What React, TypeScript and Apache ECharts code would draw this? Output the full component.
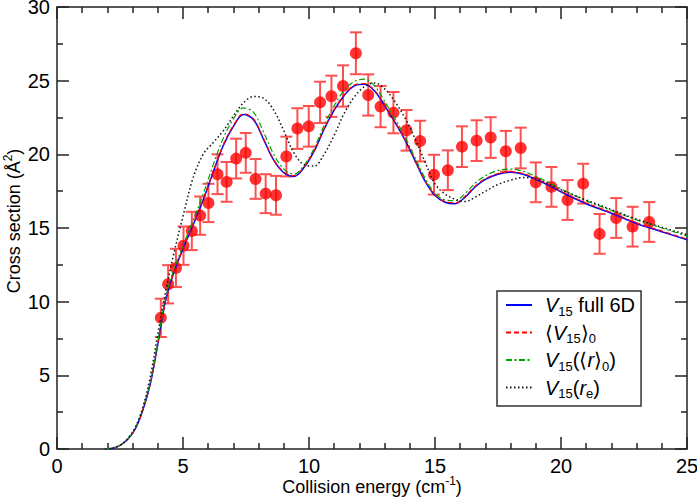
import React, { useEffect, useRef } from "react";
import * as echarts from "echarts";

// Experimental points: collision energy (cm^-1), cross section (Å^2), error bar half-width
const expEnergy = [4.12, 4.41, 4.72, 5.02, 5.35, 5.68, 6.01, 6.37, 6.73, 7.11, 7.49, 7.88, 8.28, 8.69, 9.10, 9.54, 9.99, 10.44, 10.89, 11.35, 11.86, 12.35, 12.84, 13.35, 13.87, 14.41, 14.96, 15.51, 16.07, 16.65, 17.21, 17.81, 18.40, 19.00, 19.62, 20.26, 20.88, 21.53, 22.19, 22.84, 23.50];
const expSigma = [8.9, 11.18, 12.29, 13.8, 14.8, 15.84, 16.7, 18.65, 18.13, 19.71, 20.1, 18.33, 17.33, 17.22, 19.85, 21.75, 21.9, 23.53, 23.94, 24.64, 26.86, 24.03, 23.24, 22.83, 21.63, 20.9, 18.62, 18.92, 20.52, 20.93, 21.14, 20.21, 20.43, 18.1, 17.79, 16.9, 18.01, 14.6, 15.68, 15.09, 15.41];
const expError = [1.3, 1.3, 1.3, 1.3, 1.3, 1.3, 1.3, 1.35, 1.35, 1.35, 1.35, 1.35, 1.32, 1.32, 1.35, 1.38, 1.38, 1.4, 1.4, 1.4, 1.42, 1.4, 1.4, 1.4, 1.38, 1.38, 1.35, 1.35, 1.38, 1.38, 1.38, 1.38, 1.38, 1.35, 1.35, 1.35, 1.35, 1.35, 1.35, 1.35, 1.35];

// Theory curves on a common energy grid
const curveEnergy = [1.9, 2.2, 2.5, 2.8, 3.1, 3.4, 3.7, 4.0, 4.3, 4.6, 5.0, 5.4, 5.8, 6.2, 6.6, 7.0, 7.4, 7.8, 8.2, 8.6, 9.0, 9.4, 9.8, 10.2, 10.6, 11.0, 11.4, 11.8, 12.2, 12.6, 13.0, 13.4, 13.8, 14.2, 14.6, 15.0, 15.4, 15.8, 16.2, 16.6, 17.0, 17.5, 18.0, 18.5, 19.0, 19.5, 20.0, 21.0, 22.0, 23.0, 24.0, 25.0];
const v15Full6D = [0, 0.05, 0.25, 0.65, 1.35, 2.6, 4.4, 7.1, 10.0, 11.8, 13.6, 15.2, 16.9, 18.8, 20.6, 21.9, 22.7, 22.35, 21.0, 19.6, 18.75, 18.5, 19.1, 20.2, 21.7, 23.0, 24.0, 24.65, 24.75, 24.3, 23.3, 22.2, 21.0, 19.6, 18.2, 17.2, 16.75, 16.65, 17.1, 17.8, 18.3, 18.65, 18.78, 18.65, 18.3, 17.9, 17.45, 16.65, 16.0, 15.3, 14.75, 14.2];
const v15Avg = [0, 0.05, 0.25, 0.66, 1.36, 2.62, 4.42, 7.12, 10.0, 11.8, 13.6, 15.25, 16.95, 18.85, 20.65, 21.95, 22.75, 22.4, 21.05, 19.65, 18.8, 18.55, 19.15, 20.25, 21.75, 23.05, 24.05, 24.7, 24.8, 24.35, 23.35, 22.25, 21.05, 19.65, 18.25, 17.25, 16.8, 16.7, 17.15, 17.85, 18.35, 18.7, 18.82, 18.7, 18.35, 17.95, 17.5, 16.7, 16.05, 15.35, 14.8, 14.25];
const v15AvgR = [0, 0.05, 0.26, 0.68, 1.4, 2.7, 4.55, 7.3, 10.2, 12.0, 13.8, 15.5, 17.3, 19.3, 21.1, 22.4, 23.15, 22.85, 21.5, 20.0, 19.0, 18.65, 19.25, 20.4, 21.95, 23.3, 24.35, 24.95, 25.1, 24.65, 23.6, 22.45, 21.2, 19.8, 18.4, 17.35, 16.9, 16.85, 17.35, 18.05, 18.55, 18.9, 19.0, 18.85, 18.5, 18.1, 17.65, 16.85, 16.2, 15.55, 15.0, 14.45];
const v15Re = [0, 0.05, 0.25, 0.7, 1.45, 2.8, 4.9, 7.8, 10.6, 13.0, 15.8, 18.4, 20.0, 20.8, 21.6, 22.6, 23.5, 23.92, 23.8, 23.0, 21.6, 20.1, 19.3, 19.2, 20.0, 21.3, 22.8, 23.9, 24.6, 24.85, 24.45, 23.6, 22.5, 21.1, 19.5, 18.0, 17.3, 16.95, 16.8, 17.1, 17.5, 17.95, 18.25, 18.42, 18.35, 18.0, 17.6, 16.9, 16.25, 15.6, 15.05, 14.55];

const xTicks = { min: 0, max: 25, interval: 5 };
const yTicks = { min: 0, max: 30, interval: 5 };

const seriesNames = ["V15 full 6D", "<V15>0", "V15(<r>0)", "V15(re)"];
const legendRich: Record<string, string> = {
  "V15 full 6D": "{i|V}{s|15}{t| full 6D}",
  "<V15>0": "{t|⟨}{i|V}{s|15}{t|⟩}{s|0}",
  "V15(<r>0)": "{i|V}{s|15}{t|(⟨}{i|r}{t|⟩}{s|0}{t|)}",
  "V15(re)": "{i|V}{s|15}{t|(}{i|r}{s|e}{t|)}",
};

const FONT = "'Liberation Sans', Arial, Helvetica, sans-serif";

export default function App() {
  const ref = useRef<HTMLDivElement>(null);
  useEffect(() => {
    if (!ref.current) return;
    const chart = echarts.init(ref.current, undefined, { renderer: "svg" });
    const pair = (ys: number[]) => curveEnergy.map((x, i) => [x, ys[i]]);
    const axisLine = { show: true, onZero: false, lineStyle: { color: "#222", width: 1.5 } };
    const tickStyle = { color: "#222", width: 1.5 };
    const lineCurves = [
      { name: seriesNames[0], data: pair(v15Full6D), color: "#0000ff", type: "solid" as any, width: 1.5 },
      { name: seriesNames[1], data: pair(v15Avg), color: "#ff0000", type: [5, 3], width: 1.2 },
      { name: seriesNames[2], data: pair(v15AvgR), color: "#00a000", type: [6, 2.5, 2, 2.5], width: 1.2 },
      { name: seriesNames[3], data: pair(v15Re), color: "#111111", type: [1.5, 2.5], width: 1.5 },
    ];
    const errColor = "#ff5050";
    const titleRich = {
      t: { fontSize: 18, color: "#000", fontFamily: FONT },
      p: { fontSize: 12, color: "#000", fontFamily: FONT, padding: [0, 0, 12, 0] },
    };
    chart.setOption({
      animation: false,
      textStyle: { fontFamily: FONT },
      grid: { left: 57, right: 10, top: 7, bottom: 50, containLabel: false, outerBoundsMode: "none" },
      xAxis: [
        {
          type: "value",
          position: "bottom",
          min: xTicks.min,
          max: xTicks.max,
          interval: xTicks.interval,
          axisLine,
          axisTick: { show: true, inside: true, length: 12, lineStyle: tickStyle },
          minorTick: { show: true, splitNumber: 5, length: 6, lineStyle: tickStyle },
          splitLine: { show: false },
          minorSplitLine: { show: false },
          axisLabel: { fontSize: 20, color: "#000", margin: 7, fontFamily: FONT },
          name: "{t|Collision energy (cm}{p|-1}{t|)}",
          nameLocation: "middle",
          nameGap: 26,
          nameMoveOverlap: false,
          nameTextStyle: { rich: titleRich },
        },
        {
          type: "value",
          position: "top",
          min: xTicks.min,
          max: xTicks.max,
          interval: xTicks.interval,
          axisLine,
          axisTick: { show: true, inside: true, length: 12, lineStyle: tickStyle },
          minorTick: { show: true, splitNumber: 5, length: 6, lineStyle: tickStyle },
          splitLine: { show: false },
          axisLabel: { show: false },
        },
      ],
      yAxis: [
        {
          type: "value",
          position: "left",
          min: yTicks.min,
          max: yTicks.max,
          interval: yTicks.interval,
          axisLine,
          axisTick: { show: true, inside: true, length: 12, lineStyle: tickStyle },
          minorTick: { show: true, splitNumber: 2, length: 6, lineStyle: tickStyle },
          splitLine: { show: false },
          minorSplitLine: { show: false },
          axisLabel: { fontSize: 20, color: "#000", margin: 7, fontFamily: FONT },
          name: "{t|Cross section (Å}{p|2}{t|)}",
          nameLocation: "middle",
          nameRotate: 90,
          nameGap: 31,
          nameMoveOverlap: false,
          nameTextStyle: { padding: [0, 0, 0, 14], rich: titleRich },
        },
        {
          type: "value",
          position: "right",
          min: yTicks.min,
          max: yTicks.max,
          interval: yTicks.interval,
          axisLine,
          axisTick: { show: true, inside: true, length: 12, lineStyle: tickStyle },
          minorTick: { show: true, splitNumber: 2, length: 6, lineStyle: tickStyle },
          splitLine: { show: false },
          axisLabel: { show: false },
        },
      ],
      legend: {
        data: seriesNames,
        orient: "vertical",
        left: 497,
        top: 291,
        itemWidth: 26,
        itemHeight: 14,
        itemGap: 5,
        padding: [4, 6, 6, 8],
        borderColor: "#333",
        borderWidth: 1.5,
        borderRadius: 0,
        backgroundColor: "#fff",
        itemStyle: { opacity: 0, borderWidth: 0 },
        formatter: (name: string) => legendRich[name] || name,
        textStyle: {
          fontSize: 20,
          color: "#000",
          fontFamily: FONT,
          padding: [0, 0, 0, 8],
          rich: {
            t: { fontSize: 20, color: "#000", fontFamily: FONT },
            i: { fontSize: 20, color: "#000", fontFamily: FONT, fontStyle: "italic" },
            s: { fontSize: 13, color: "#000", fontFamily: FONT, padding: [12, 0, 0, 0] },
          },
        },
      },
      series: [
        {
          type: "custom",
          name: "error",
          z: 1,
          silent: true,
          encode: { x: 0, y: 1 },
          data: expEnergy.map((x, i) => [x, expSigma[i], expError[i]]),
          renderItem: (params: any, api: any) => {
            const x = api.value(0);
            const y = api.value(1);
            const e = api.value(2);
            const top = api.coord([x, y + e]);
            const bot = api.coord([x, y - e]);
            const hw = 6;
            const style = { stroke: errColor, lineWidth: 2 };
            return {
              type: "group",
              children: [
                { type: "line", shape: { x1: top[0], y1: top[1], x2: bot[0], y2: bot[1] }, style },
                { type: "line", shape: { x1: top[0] - hw, y1: top[1], x2: top[0] + hw, y2: top[1] }, style },
                { type: "line", shape: { x1: bot[0] - hw, y1: bot[1], x2: bot[0] + hw, y2: bot[1] }, style },
              ],
            };
          },
        },
        {
          type: "scatter",
          name: "experiment",
          z: 2,
          symbol: "circle",
          symbolSize: 12,
          itemStyle: { color: "#ff0000" },
          data: expEnergy.map((x, i) => [x, expSigma[i]]),
        },
        ...lineCurves.map((c) => ({
          type: "line",
          name: c.name,
          z: 3,
          data: c.data,
          smooth: 0.35,
          symbol: "none",
          showSymbol: false,
          color: c.color,
          lineStyle: { color: c.color, width: c.width, type: c.type },
        })),
      ],
    });
    return () => chart.dispose();
  }, []);
  return <div ref={ref} style={{ width: 697, height: 499, position: "absolute", left: 0, top: 0 }} />;
}
